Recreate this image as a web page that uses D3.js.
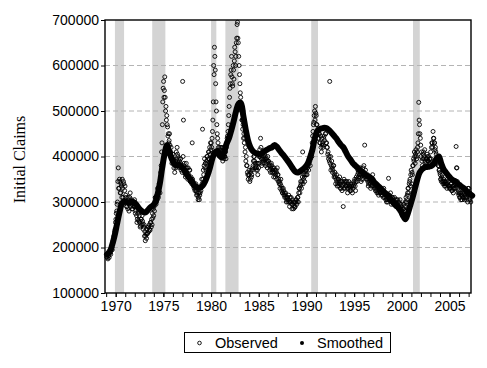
<!DOCTYPE html>
<html>
<head>
<meta charset="utf-8">
<script src="https://cdn.jsdelivr.net/npm/d3@7"></script>
<style>
  body { margin: 0; background: #fff; }
  svg text { font-family: "Liberation Sans", Arial, sans-serif; }
</style>
</head>
<body>
<svg id="chart" width="487" height="368"></svg>
<script>
// initial claims, thousands, first half of each month (Jan 1969 .. Mar 2007)
var observed = [
  185,178,175,182,188,192,195,200,208,215,225,240, // 1969
  262,280,300,375,330,345,320,335,350,310,340,325, // 1970
  300,310,290,285,305,295,320,300,295,285,300,290, // 1971
  290,280,270,262,280,258,255,248,262,270,252,245, // 1972
  225,215,230,240,232,245,250,238,255,262,275,285, // 1973
  290,300,310,300,305,318,325,335,350,380,430,520, // 1974
  565,545,530,510,490,465,450,435,425,410,400,395, // 1975
  385,375,365,390,410,420,400,380,390,385,370,375, // 1976
  565,480,385,370,375,365,360,375,355,370,345,350, // 1977
  430,345,340,335,330,325,320,315,310,305,320,325, // 1978
  350,460,370,380,375,385,390,400,395,410,420,430, // 1979
  430,440,480,600,640,590,520,470,440,420,410,415, // 1980
  420,410,400,405,395,400,410,420,440,455,490,530, // 1981
  560,590,575,555,590,610,630,620,660,695,650,600, // 1982
  560,530,500,480,470,450,440,420,400,380,360,360, // 1983
  360,350,370,360,375,390,400,385,380,375,370,385, // 1984
  400,415,440,395,385,390,395,405,400,385,390,400, // 1985
  390,385,380,375,380,370,365,375,370,360,365,375, // 1986
  360,350,345,340,335,330,320,325,320,315,310,305, // 1987
  310,305,300,310,300,295,305,300,292,288,300,305, // 1988
  300,310,320,330,335,340,345,410,350,355,360,370, // 1989
  370,375,380,385,390,395,410,430,455,475,500,510, // 1990
  490,470,460,440,450,430,420,440,430,425,445,460, // 1991
  450,430,420,410,400,565,400,380,375,370,380,360, // 1992
  355,350,345,340,350,345,340,330,335,345,290,350, // 1993
  340,345,335,330,340,345,335,330,325,335,340,335, // 1994
  340,335,345,350,360,365,370,360,355,350,360,375, // 1995
  380,425,370,360,350,345,340,355,340,335,345,360, // 1996
  345,340,335,330,325,330,320,325,330,320,315,325, // 1997
  320,330,310,315,310,305,300,352,315,310,305,300, // 1998
  310,305,300,295,300,305,295,290,300,295,285,290, // 1999
  280,275,285,290,300,310,305,320,330,340,350,360, // 2000
  340,360,380,390,400,405,400,410,430,519,470,440, // 2001
  400,390,395,410,400,390,385,395,400,390,385,395, // 2002
  410,420,430,455,440,430,420,405,395,390,380,370, // 2003
  360,350,355,345,350,340,345,335,340,350,345,335, // 2004
  335,330,340,325,330,335,330,340,422,375,330,325, // 2005
  320,310,305,315,320,310,320,315,310,305,320,330, // 2006
  330,320,310                                      // 2007
];

// initial claims, thousands, second half of each month
var observedLate = [
  180,185,190,178,195,185,200,195,215,225,235,255, // 1969
  275,295,345,330,350,320,340,310,330,345,300,335, // 1970
  315,290,300,310,280,310,290,305,285,300,290,305, // 1971
  275,290,255,275,260,270,245,262,250,258,240,250, // 1972
  235,225,220,230,245,235,240,255,245,250,265,270, // 1973
  280,310,295,315,330,310,340,320,365,410,470,550, // 1974
  530,575,500,480,470,445,430,450,405,420,385,405, // 1975
  395,390,380,375,395,405,385,395,375,395,380,365, // 1976
  400,380,370,355,385,375,350,360,370,345,355,340, // 1977
  350,335,330,325,340,315,330,305,320,315,330,335, // 1978
  340,350,360,395,385,370,400,385,410,395,405,415, // 1979
  420,455,520,580,620,560,500,450,430,410,420,400, // 1980
  405,420,390,410,400,415,395,430,445,470,510,550, // 1981
  580,620,560,600,570,640,600,650,690,660,620,580, // 1982
  540,510,480,460,440,430,410,390,380,365,350,370, // 1983
  345,365,355,370,380,400,390,375,370,385,360,375, // 1984
  385,400,420,380,395,400,385,395,380,395,375,390, // 1985
  380,370,365,385,365,375,355,365,355,370,350,360, // 1986
  345,340,330,350,325,320,330,315,310,320,300,310, // 1987
  300,315,290,300,310,285,295,285,300,290,305,295, // 1988
  310,300,330,320,345,330,355,340,360,345,370,360, // 1989
  360,385,370,395,380,405,400,445,470,490,480,495, // 1990
  470,455,440,450,430,445,410,425,420,440,435,450, // 1991
  430,420,405,395,390,385,370,390,365,380,355,365, // 1992
  340,360,335,350,335,355,330,345,325,340,330,345, // 1993
  330,335,345,320,330,335,325,340,335,320,330,345, // 1994
  350,325,355,345,370,355,360,375,345,365,350,365, // 1995
  365,360,355,350,360,335,350,345,330,345,335,350, // 1996
  335,330,325,340,320,335,315,330,320,330,325,315, // 1997
  310,320,320,305,300,315,310,305,305,320,295,310, // 1998
  300,295,310,305,290,295,305,285,290,305,295,280, // 1999
  270,285,295,280,290,300,315,330,320,345,335,370, // 2000
  365,380,395,410,385,415,395,420,450,480,450,425, // 2001
  410,380,405,395,415,380,395,405,390,400,395,385, // 2002
  395,430,420,440,430,415,410,395,385,380,370,365, // 2003
  350,345,360,340,345,335,340,345,330,340,335,330, // 2004
  330,340,325,335,320,330,340,330,375,345,320,315, // 2005
  310,320,315,305,310,325,305,310,320,310,300,315, // 2006
  320,305,300                                      // 2007
];

// smoothed series, thousands, one value per quarter (1969Q1 .. 2007Q2)
var smoothed = [
  185,190,205,225, 250,275,295,302, 300,298,300,300, 295,288,282,278,
  277,282,288,292, 298,315,340,375, 405,425,410,395, 385,380,382,378,
  372,362,355,348, 340,334,332,332, 336,345,358,375, 395,408,412,402,
  398,410,428,440, 458,478,500,516, 518,490,460,435, 420,412,408,406,
  405,408,412,415, 418,420,425,422, 415,408,402,395, 388,380,372,366,
  365,368,372,377, 384,398,415,440, 455,460,462,463, 462,458,452,446,
  440,432,425,420, 410,400,393,385, 380,375,370,365, 360,357,355,350,
  343,338,333,328, 322,318,312,305, 298,292,288,280, 270,262,275,292,
  310,330,350,365, 372,376,377,378, 380,385,395,400, 385,372,365,358,
  352,348,345,340, 336,332,328,322, 318,314
];

var startYear = 1969;
var yTicks = [100000, 200000, 300000, 400000, 500000, 600000, 700000];
var majorYears = [1970, 1975, 1980, 1985, 1990, 1995, 2000, 2005];

// NBER recessions (start, end) in fractional years
var recessions = [
  [1969.92, 1970.88], [1973.83, 1975.21], [1980.0, 1980.55],
  [1981.5, 1982.88], [1990.5, 1991.21], [2001.17, 2001.88]
];

var svg = d3.select("#chart");
var plotL = 105, plotR = 471, plotT = 20, plotB = 293;

var x = d3.scaleLinear().domain([1968.88, 2007.25]).range([plotL, plotR]);
var y = d3.scaleLinear().domain([100000, 700000]).range([plotB, plotT]);

// recession shading
svg.append("g").selectAll("rect")
  .data(recessions)
  .enter().append("rect")
  .attr("x", function (d) { return x(d[0]); })
  .attr("width", function (d) { return x(d[1]) - x(d[0]); })
  .attr("y", plotT)
  .attr("height", plotB - plotT)
  .attr("fill", "#d4d4d4");

// dashed grid
svg.append("g").selectAll("line")
  .data(yTicks.slice(1, -1))
  .enter().append("line")
  .attr("x1", plotL).attr("x2", plotR)
  .attr("y1", function (d) { return y(d); })
  .attr("y2", function (d) { return y(d); })
  .attr("stroke", "#b4b4b4")
  .attr("stroke-width", 1)
  .attr("stroke-dasharray", "5,3");

// observed: open circles, two readings per month
function drawObserved(values, offset) {
  svg.append("g").selectAll("circle")
    .data(values)
    .enter().append("circle")
    .attr("cx", function (d, i) { return x(startYear + i / 12 + offset); })
    .attr("cy", function (d) { return y(d * 1000); })
    .attr("r", 2)
    .attr("fill", "none")
    .attr("stroke", "#000")
    .attr("stroke-width", 0.9);
}
drawObserved(observed, 1 / 48);
drawObserved(observedLate, 3 / 48);

// smoothed: heavy line of dots
var line = d3.line()
  .x(function (d, i) { return x(startYear + i / 4 + 0.125); })
  .y(function (d) { return y(d * 1000); })
  .curve(d3.curveCatmullRom);

svg.append("path")
  .datum(smoothed)
  .attr("d", line)
  .attr("fill", "none")
  .attr("stroke", "#000")
  .attr("stroke-width", 6)
  .attr("stroke-linecap", "round")
  .attr("stroke-linejoin", "round");

// axes
var yAxis = d3.axisLeft(y)
  .tickValues(yTicks)
  .tickFormat(d3.format("d"))
  .tickSize(4)
  .tickPadding(2);

var gy = svg.append("g")
  .attr("transform", "translate(" + plotL + ",0)")
  .call(yAxis);

var allYears = d3.range(1969, 2008);
var xMinor = d3.axisBottom(x).tickValues(allYears).tickFormat("").tickSize(4);
var xMajor = d3.axisBottom(x)
  .tickValues(majorYears)
  .tickFormat(d3.format("d"))
  .tickSize(4)
  .tickPadding(4);

var gx1 = svg.append("g").attr("transform", "translate(0," + plotB + ")").call(xMinor);
var gx2 = svg.append("g").attr("transform", "translate(0," + plotB + ")").call(xMajor);

[gy, gx1, gx2].forEach(function (g) {
  g.select(".domain").remove();
  g.selectAll("line").attr("stroke", "#000");
  g.selectAll("text")
    .attr("fill", "#000")
    .style("font-size", "14px")
    .style("font-family", "'Liberation Sans', Arial, sans-serif");
});

// frame
svg.append("rect")
  .attr("x", plotL).attr("y", plotT)
  .attr("width", plotR - plotL).attr("height", plotB - plotT)
  .attr("fill", "none")
  .attr("stroke", "#000")
  .attr("stroke-width", 1.4);

// y title
svg.append("text")
  .attr("transform", "translate(25," + ((plotT + plotB) / 2 + 3) + ") rotate(-90)")
  .attr("text-anchor", "middle")
  .style("font-family", "'Liberation Serif', 'Times New Roman', serif")
  .style("font-size", "16px")
  .text("Initial Claims");

// legend
var lg = svg.append("g");
lg.append("rect")
  .attr("x", 184.5).attr("y", 332.5)
  .attr("width", 206).attr("height", 20)
  .attr("fill", "#fff")
  .attr("stroke", "#000")
  .attr("stroke-width", 1);
lg.append("circle")
  .attr("cx", 199.5).attr("cy", 343)
  .attr("r", 1.8)
  .attr("fill", "none")
  .attr("stroke", "#000")
  .attr("stroke-width", 0.9);
lg.append("text")
  .attr("x", 215).attr("y", 348)
  .style("font-size", "14.5px")
  .text("Observed");
lg.append("circle")
  .attr("cx", 302).attr("cy", 343)
  .attr("r", 2)
  .attr("fill", "#000");
lg.append("text")
  .attr("x", 317).attr("y", 348)
  .style("font-size", "14.5px")
  .text("Smoothed");
</script>
</body>
</html>
